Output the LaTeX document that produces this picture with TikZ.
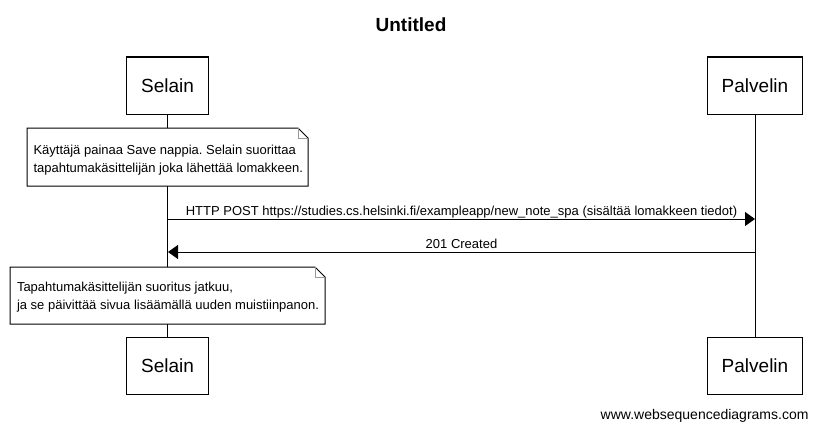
\documentclass[tikz,border=0pt]{standalone}
\usepackage{fontspec}
\setmainfont{Liberation Sans}
\usetikzlibrary{arrows.meta}
\frenchspacing

\begin{document}
\begin{tikzpicture}[x=1pt, y=-1pt, line width=1pt,
    actor/.style={rectangle,draw,fill=white,minimum height=57pt,inner xsep=14.5pt,font=\fontsize{19}{22}\selectfont},
    note/.style={draw,fill=white},
    fold/.style={draw=gray!80,line width=0.8pt},
    notetext/.style={align=left,inner sep=0pt,anchor=west,font=\fontsize{13}{18.5}\selectfont},
    msg/.style={-{Triangle[length=10pt,width=14pt]}},
    msglabel/.style={anchor=base,yshift=4pt,inner sep=0pt,font=\fontsize{13}{16}\selectfont}]

       \useasboundingbox (0, 0) rectangle (818, 428);

       \node[font=\bfseries\fontsize{19}{22}\selectfont] (title) at (411, 25) {Untitled};

       \node[actor] (selainTop) at (167.5, 85.5) {Selain};
       \node[actor] (palvelinTop) at (755, 85.5) {Palvelin};
       \node[actor] (selainBottom) at (167.5, 365.5) {Selain};
       \node[actor] (palvelinBottom) at (755, 365.5) {Palvelin};

       \draw (selainTop) to (selainBottom);
       \draw (palvelinTop) to (palvelinBottom);

       \draw[note] (27, 128) -- (298, 128) -- (308, 138) -- (308, 186) -- (27, 186) -- cycle;
       \draw[fold] (298, 128) -- (298, 138) -- (308, 138);
       \node[notetext] (note1) at (33, 160) {Käyttäjä painaa Save nappia. Selain suorittaa\\tapahtumakäsittelijän joka lähettää lomakkeen.};

       \coordinate (postFrom) at (168, 219);
       \coordinate (postTo) at (755, 219);
       \coordinate (createdFrom) at (755, 252);
       \coordinate (createdTo) at (168, 252);

       \draw[msg] (postFrom) to node[msglabel] {HTTP POST https://studies.cs.helsinki.fi/exampleapp/new\_note\_spa (sisältää lomakkeen tiedot)} (postTo);
       \draw[msg] (createdFrom) to node[msglabel] {201 Created} (createdTo);

       \draw[note] (10, 267) -- (315, 267) -- (325, 277) -- (325, 324) -- (10, 324) -- cycle;
       \draw[fold] (315, 267) -- (315, 277) -- (325, 277);
       \node[notetext] (note2) at (16.5, 297) {Tapahtumakäsittelijän suoritus jatkuu,\\ja se päivittää sivua lisäämällä uuden muistiinpanon.};

       \node[anchor=base east,inner sep=0pt,font=\fontsize{14}{16}\selectfont] (footer) at (809, 419.5) {www.websequencediagrams.com};
     \end{tikzpicture}
\end{document}
